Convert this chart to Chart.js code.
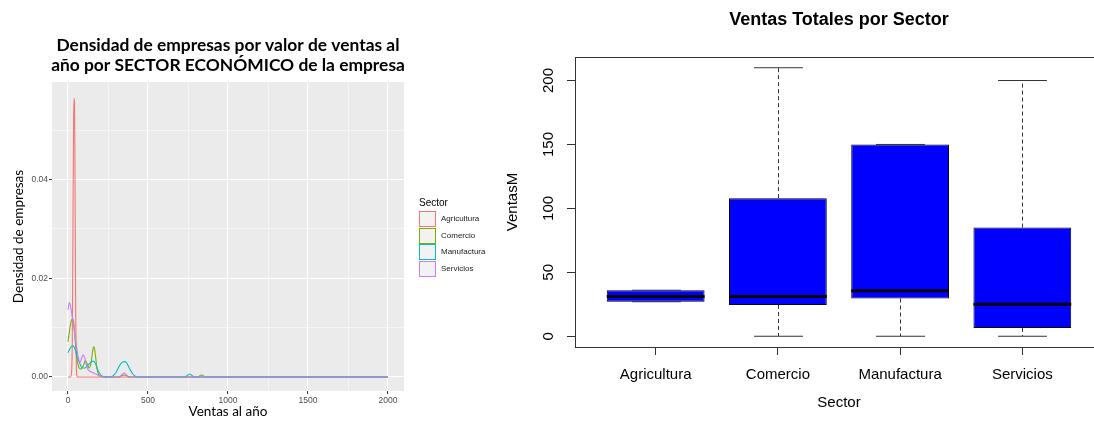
<!DOCTYPE html>
<html><head><meta charset="utf-8">
<script src="https://cdn.jsdelivr.net/npm/chart.js@4"></script>
<style>
html,body{margin:0;padding:0;width:1094px;height:421px;overflow:hidden;background:#fff;}
#c1{position:absolute;left:0;top:0;}
#c2{position:absolute;left:500px;top:0;}
#legend{position:absolute;left:0;top:0;font-family:'Liberation Sans',Arial,sans-serif;color:#000;}
.lg-title{position:absolute;left:419px;top:197px;font-size:10px;line-height:12px;white-space:nowrap;}
.lg-key{position:absolute;left:419px;width:17px;height:16px;}
.lg-key i{position:absolute;left:1px;top:1px;width:15px;height:14px;background:#F2F2F2;}
.lg-lab{position:absolute;left:441px;font-size:8px;line-height:16px;white-space:nowrap;color:#1a1a1a;}
</style></head><body>
<canvas id="c1" width="456" height="421"></canvas>
<canvas id="c2" width="678" height="421"></canvas>
<div id="legend"></div>
<script>
// ---------- shared ----------
const sectors = ['Agricultura', 'Comercio', 'Manufactura', 'Servicios'];
const sectorColors = ['#F8766D', '#7CAE00', '#00BFC4', '#C77CFF'];

// ---------- left chart: density estimates ----------
const densTitle = ['Densidad de empresas por valor de ventas al', 'año por SECTOR ECONÓMICO de la empresa'];
const agriX = [0, 15, 22, 27, 31, 35, 38, 41, 44, 48, 52, 58, 2000];
const agriY = [0, 0, 0.0008, 0.008, 0.03, 0.052, 0.0565, 0.0555, 0.04, 0.014, 0.002, 0, 0];
const comX = [0, 10, 20, 28, 36, 45, 55, 65, 80, 95, 108, 120, 132, 145, 155, 162, 170, 180, 190, 205, 230, 320, 340, 355, 375, 400, 810, 835, 860, 2000];
const comY = [0.0071, 0.0095, 0.0113, 0.0118, 0.011, 0.0075, 0.004, 0.0022, 0.0016, 0.0022, 0.0033, 0.0026, 0.0018, 0.003, 0.0055, 0.0061, 0.0048, 0.002, 0.0006, 0.0001, 0, 0, 0.0003, 0.0004, 0.0001, 0, 0, 0.0004, 0, 0];
const manX = [0, 10, 20, 33, 45, 55, 69, 90, 105, 120, 140, 158, 172, 185, 200, 220, 250, 280, 300, 320, 340, 352, 365, 385, 405, 425, 450, 730, 745, 760, 775, 790, 2000];
const manY = [0.0049, 0.0056, 0.0061, 0.0063, 0.0055, 0.0043, 0.0031, 0.0018, 0.0018, 0.0022, 0.0029, 0.0032, 0.0027, 0.0015, 0.0006, 0.0001, 0, 0.0002, 0.0009, 0.0022, 0.003, 0.0031, 0.0029, 0.0017, 0.0006, 0.0001, 0, 0, 0.0003, 0.0006, 0.0003, 0, 0];
const serX = [0, 8, 15, 25, 35, 45, 55, 65, 75, 85, 95, 105, 115, 125, 140, 160, 180, 200, 230, 320, 335, 350, 365, 380, 2000];
const serY = [0.0136, 0.0151, 0.0145, 0.0125, 0.0105, 0.008, 0.0058, 0.0038, 0.0029, 0.0038, 0.0045, 0.0038, 0.0024, 0.0015, 0.0011, 0.0008, 0.0005, 0.0002, 0, 0, 0.0004, 0.0008, 0.0004, 0, 0];
const densXMajor = [0, 500, 1000, 1500, 2000];
const densXMinor = [250, 750, 1250, 1750];
const densYMajor = [0, 0.02, 0.04];
const densYMinor = [0.01, 0.03, 0.05];
const densYLabels = ['0.00', '0.02', '0.04'];

// ---------- right chart: boxplot stats ----------
const boxTitle = 'Ventas Totales por Sector';
const boxMin = [27, 0, 0, 0];
const boxQ1 = [27, 24.5, 29.5, 6.5];
const boxMed = [31, 31, 35.5, 25];
const boxQ3 = [36, 108, 150, 85];
const boxMax = [36, 210, 150, 200];
const boxYTicks = [0, 50, 100, 150, 200];

// ---------- legend (HTML) ----------
(function () {
  const lg = document.getElementById('legend');
  const tops = [211, 228, 244, 261];
  let h = '<div class="lg-title">Sector</div>';
  sectors.forEach((s, i) => {
    h += '<div class="lg-key" style="top:' + tops[i] + 'px;background:' + sectorColors[i] + '"><i></i></div>';
    h += '<div class="lg-lab" style="top:' + tops[i] + 'px">' + s + '</div>';
  });
  lg.innerHTML = h;
})();

const serif = "'Liberation Sans', Arial, sans-serif";
const pairs = (xs, ys) => xs.map((x, i) => ({ x: x, y: ys[i] }));
const densSeries = [[agriX, agriY], [comX, comY], [manX, manY], [serX, serY]];

const panelBg = {
  id: 'panelBg',
  beforeDraw(chart) {
    const a = chart.chartArea, ctx = chart.ctx;
    ctx.save();
    ctx.fillStyle = '#EBEBEB';
    ctx.fillRect(a.left, a.top, a.right - a.left, a.bottom - a.top);
    ctx.restore();
  }
};

const allX = densXMajor.concat(densXMinor).sort((a, b) => a - b);
const allY = densYMajor.concat(densYMinor).sort((a, b) => a - b);

new Chart(document.getElementById('c1'), {
  type: 'line',
  data: {
    datasets: densSeries.map((s, i) => ({
      label: sectors[i],
      data: pairs(s[0], s[1]),
      borderColor: sectorColors[i],
      borderWidth: 1.1,
      pointRadius: 0,
      fill: false,
      cubicInterpolationMode: 'monotone',
      order: 3 - i
    }))
  },
  options: {
    responsive: false,
    animation: false,
    events: [],
    layout: { padding: 0 },
    plugins: {
      legend: { display: false },
      tooltip: { enabled: false },
      title: {
        display: true,
        text: densTitle,
        color: '#000',
        font: { family: 'Lato', size: 17.4, weight: 'bold', lineHeight: 20 / 17.4 },
        padding: { top: 35, bottom: 7 }
      }
    },
    scales: {
      x: {
        type: 'linear', position: 'bottom', min: -100, max: 2100,
        afterBuildTicks: s => { s.ticks = allX.map(v => ({ value: v })); },
        afterFit: s => { s.height = 30; },
        ticks: {
          autoSkip: false, maxRotation: 0, padding: 2, color: '#4D4D4D',
          font: { family: serif, size: 8.5 },
          callback: v => densXMajor.includes(v) ? String(v) : ''
        },
        grid: {
          color: '#FFFFFF',
          lineWidth: c => densXMajor.includes(c.tick.value) ? 1.1 : 0.5,
          tickColor: c => densXMajor.includes(c.tick.value) ? '#333333' : 'rgba(0,0,0,0)',
          tickLength: 3, tickWidth: 1
        },
        border: { display: false },
        title: { display: true, text: 'Ventas al año', color: '#000', font: { family: 'Lato', size: 13.5 }, padding: { top: 0, bottom: 1.5 } }
      },
      y: {
        type: 'linear', position: 'left', min: -0.00285, max: 0.0598,
        afterBuildTicks: s => { s.ticks = allY.map(v => ({ value: v })); },
        afterFit: s => { s.width = 52; },
        ticks: {
          autoSkip: false, padding: 1, color: '#4D4D4D',
          font: { family: serif, size: 8.5 },
          callback: v => { const k = densYMajor.indexOf(v); return k >= 0 ? densYLabels[k] : ''; }
        },
        grid: {
          color: '#FFFFFF',
          lineWidth: c => densYMajor.includes(c.tick.value) ? 1.1 : 0.5,
          tickColor: c => densYMajor.includes(c.tick.value) ? '#333333' : 'rgba(0,0,0,0)',
          tickLength: 3, tickWidth: 1
        },
        border: { display: false },
        title: { display: true, text: 'Densidad de empresas', color: '#000', font: { family: 'Lato', size: 13.5 }, padding: { top: 11, bottom: 0 } }
      },
      yR: {
        type: 'linear', position: 'right', display: true,
        afterFit: s => { s.width = 52; },
        ticks: { display: false }, grid: { display: false }, border: { display: false }
      }
    }
  },
  plugins: [panelBg]
});

// ---------- right chart: boxplot ----------
const boxExtras = {
  id: 'boxExtras',
  afterDatasetsDraw(chart) {
    const ctx = chart.ctx, y = chart.scales.y, a = chart.chartArea;
    const meta = chart.getDatasetMeta(0);
    const line = (x1, y1, x2, y2) => { ctx.beginPath(); ctx.moveTo(x1, y1); ctx.lineTo(x2, y2); ctx.stroke(); };
    ctx.save();
    meta.data.forEach((el, i) => {
      const cx = Math.round(el.x) + 0.5, half = el.width / 2;
      const yQ1 = y.getPixelForValue(boxQ1[i]), yQ3 = y.getPixelForValue(boxQ3[i]);
      const yMin = y.getPixelForValue(boxMin[i]), yMax = y.getPixelForValue(boxMax[i]);
      const yMed = y.getPixelForValue(boxMed[i]);
      ctx.strokeStyle = '#333'; ctx.lineWidth = 1;
      ctx.setLineDash([4, 3]);
      if (boxMax[i] > boxQ3[i]) line(cx, yQ3, cx, yMax);
      if (boxMin[i] < boxQ1[i]) line(cx, yQ1, cx, yMin);
      ctx.setLineDash([]);
      line(cx - half / 2, yMax, cx + half / 2, yMax);
      line(cx - half / 2, yMin, cx + half / 2, yMin);
      ctx.strokeStyle = '#000'; ctx.lineWidth = 3;
      line(el.x - half, yMed, el.x + half, yMed);
    });
    ctx.strokeStyle = '#333'; ctx.lineWidth = 1;
    ctx.strokeRect(Math.round(a.left) + 0.5, Math.round(a.top) + 0.5, a.right - a.left, Math.round(a.bottom - a.top));
    ctx.restore();
  }
};

new Chart(document.getElementById('c2'), {
  type: 'bar',
  data: {
    datasets: [{
      label: 'VentasM',
      data: sectors.map((s, i) => ({ x: i + 1, y: [boxQ1[i], boxQ3[i]] })),
      backgroundColor: '#0000FF',
      borderColor: '#000000',
      borderWidth: 1,
      borderSkipped: false,
      barPercentage: 0.8,
      categoryPercentage: 1.0
    }]
  },
  options: {
    responsive: false,
    animation: false,
    events: [],
    layout: { padding: 0 },
    plugins: {
      legend: { display: false },
      tooltip: { enabled: false },
      title: {
        display: true, text: boxTitle, color: '#000',
        font: { family: serif, size: 18, weight: 'bold', lineHeight: 1.2 },
        padding: { top: 9.2, bottom: 26.2 }
      }
    },
    scales: {
      x: {
        type: 'linear', position: 'bottom', min: 0.34, max: 4.66, offset: false,
        afterBuildTicks: s => { s.ticks = sectors.map((c, i) => ({ value: i + 1 })); },
        afterFit: s => { s.height = 74; },
        ticks: {
          autoSkip: false, maxRotation: 0, padding: 11, color: '#000',
          font: { family: serif, size: 15 },
          callback: v => sectors[v - 1]
        },
        grid: { offset: false, drawOnChartArea: false, drawTicks: true, tickLength: 8, tickColor: '#333', tickWidth: 1 },
        border: { display: false },
        title: { display: true, text: 'Sector', color: '#000', font: { family: serif, size: 15 }, padding: { top: 0, bottom: 9 } }
      },
      y: {
        type: 'linear', position: 'left', min: -8.4, max: 218.4,
        afterBuildTicks: s => { s.ticks = boxYTicks.map(v => ({ value: v })); },
        afterFit: s => { s.width = 75; },
        ticks: {
          autoSkip: false, minRotation: 90, maxRotation: 90, crossAlign: 'center', padding: 6, color: '#000',
          font: { family: serif, size: 15 }
        },
        grid: { drawOnChartArea: false, drawTicks: true, tickLength: 8, tickColor: '#333', tickWidth: 1 },
        border: { display: false },
        title: { display: true, text: 'VentasM', color: '#000', font: { family: serif, size: 15 }, padding: { top: 4, bottom: 0 } }
      },
      yR: {
        type: 'linear', position: 'right', display: true,
        afterFit: s => { s.width = 75; },
        ticks: { display: false }, grid: { display: false }, border: { display: false }
      }
    }
  },
  plugins: [boxExtras]
});
</script>
</body></html>
